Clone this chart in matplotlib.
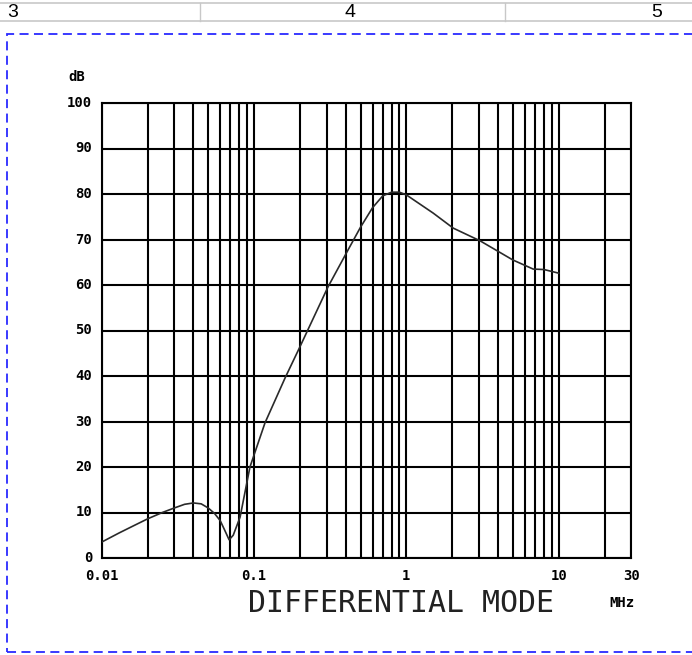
import matplotlib
matplotlib.use("Agg")
import matplotlib.pyplot as plt
from matplotlib.patches import Rectangle
from matplotlib.lines import Line2D

# Data
freq_mhz = [0.01, 0.013, 0.016, 0.02, 0.025, 0.03, 0.035, 0.04, 0.045, 0.05,
            0.055, 0.06, 0.064, 0.0686, 0.073, 0.081, 0.094, 0.118, 0.16, 0.2,
            0.306, 0.414, 0.5, 0.6, 0.7, 0.8, 0.9, 1.0, 1.5, 2.03, 3.05, 5.0, 6.8,
            8.0, 10.0]
level_db = [3.5, 5.5, 7.0, 8.6, 10.0, 11.0, 11.8, 12.1, 11.9, 11.0,
            9.8, 8.2, 6.2, 4.0, 5.0, 9.0, 20.0, 29.7, 39.6, 46.4,
            59.6, 67.7, 72.7, 77.0, 79.6, 80.4, 80.4, 79.8, 75.8, 72.5, 69.7, 65.5, 63.5,
            63.4, 62.6]

y_ticks = [0, 10, 20, 30, 40, 50, 60, 70, 80, 90, 100]
x_tick_vals = [0.01, 0.1, 1, 10, 30]
x_tick_labels = ["0.01", "0.1", "1", "10", "30"]
header_labels = ["3", "4", "5"]
title_text = "DIFFERENTIAL MODE"

W, H = 692, 655
fig = plt.figure(figsize=(W / 100, H / 100), dpi=100)
fig.patch.set_facecolor("white")

def fx(px):
    return px / W

def fy(py):
    return 1 - py / H

# header strip (spreadsheet-like column header)
for yy in (3, 21):
    fig.add_artist(Line2D([0, 1], [fy(yy), fy(yy)], color="#c8c8c8", lw=1.2))
for xx in (200, 505):
    fig.add_artist(Line2D([fx(xx), fx(xx)], [fy(3), fy(21)], color="#c8c8c8", lw=1.0))
for lab, xx in zip(header_labels, (13, 350, 657)):
    fig.text(fx(xx), fy(12.5), lab, ha="center", va="center", fontsize=14,
             family="Liberation Sans", color="black")

# dashed blue frame
fig.add_artist(Rectangle((fx(7), fy(652)), fx(700) - fx(7), fy(34) - fy(652),
                         fill=False, edgecolor="#2a2aff", lw=1.3,
                         linestyle=(0, (5, 3)), transform=fig.transFigure))

ax = fig.add_axes([fx(101.7), fy(558), fx(631.4) - fx(101.7), fy(103) - fy(558)])
ax.set_xscale("log")
ax.set_xlim(0.01, 30)
ax.set_ylim(0, 100)

# grid lines
vlines = []
for dec in (0.01, 0.1, 1):
    vlines += [dec * k for k in range(1, 10)]
vlines += [10, 20, 30]
for v in vlines:
    ax.axvline(v, color="black", lw=1.5, zorder=1)
for t in y_ticks:
    ax.axhline(t, color="black", lw=1.5, zorder=1)
for s in ax.spines.values():
    s.set_linewidth(1.5)

ax.plot(freq_mhz, level_db, color="#2a2a2a", lw=1.2, zorder=3)

ax.set_xticks([])
ax.set_yticks([])
ax.minorticks_off()
ax.xaxis.set_minor_locator(matplotlib.ticker.NullLocator())

tick_font = dict(family="DejaVu Sans Mono", fontweight="bold", fontsize=10)
for t in y_ticks:
    ax.text(-0.018, t, str(t), transform=ax.get_yaxis_transform(),
            ha="right", va="center", **tick_font)
for v, lab in zip(x_tick_vals, x_tick_labels):
    ax.text(v, -0.04, lab, transform=ax.get_xaxis_transform(),
            ha="center", va="center", **tick_font)

fig.text(fx(77), fy(77), "dB", ha="center", va="center", **tick_font)
fig.text(fx(622), fy(603), "MHz", ha="center", va="center", **tick_font)
fig.text(fx(400.5), fy(604), title_text, ha="center", va="center",
         family="DejaVu Sans Mono", fontsize=21.5, color="#222222")

fig.savefig("out.png", dpi=100)
